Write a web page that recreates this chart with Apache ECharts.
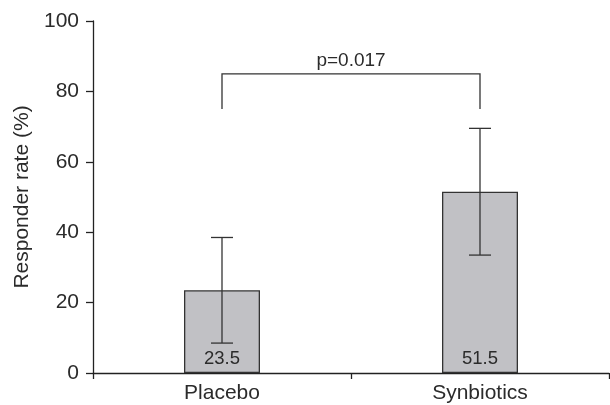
<!DOCTYPE html>
<html>
<head>
<meta charset="utf-8">
<script src="https://cdn.jsdelivr.net/npm/echarts@6/dist/echarts.min.js"></script>
<style>html,body{margin:0;padding:0;background:#fff;}#c{width:610px;height:405px;}</style>
</head>
<body>
<div id="c"></div>
<script>
var categories = ['Placebo', 'Synbiotics'];
var rates = [23.5, 51.5];
var errLow = [8.5, 33.5];
var errHigh = [38.5, 69.5];
var bracketTop = 85;
var bracketBottom = 75;
var pLabel = 'p=0.017';
var yTicks = [0, 20, 40, 60, 80, 100];

var chart = echarts.init(document.getElementById('c'));
var font = 'Liberation Sans, Arial, Helvetica, sans-serif';
var txt = '#2b2b2b';
chart.setOption({
  animation: false,
  grid: {left: 93, right: 1, top: 21, bottom: 32},
  xAxis: {
    type: 'category', data: categories,
    axisLine: {lineStyle: {color: '#222', width: 1.3}},
    axisTick: {show: true, length: 6, lineStyle: {color: '#222', width: 1.3}},
    axisLabel: {color: txt, fontSize: 21, fontFamily: font, margin: 10}
  },
  yAxis: {
    type: 'value', min: yTicks[0], max: yTicks[yTicks.length - 1], interval: 20,
    name: 'Responder rate (%)', nameLocation: 'middle', nameGap: 59,
    nameTextStyle: {color: txt, fontSize: 21, fontFamily: font},
    axisLine: {show: true, lineStyle: {color: '#222', width: 1.3}},
    axisTick: {show: true, length: 7, lineStyle: {color: '#222', width: 1.3}},
    splitLine: {show: false},
    axisLabel: {color: txt, fontSize: 21, fontFamily: font, margin: 14}
  },
  series: [
    {
      type: 'bar', data: rates, barWidth: 76,
      itemStyle: {color: '#c1c1c5', borderColor: '#333', borderWidth: 1.3},
      label: {show: true, position: 'insideBottom', distance: 5, color: txt, fontSize: 18.5, fontFamily: font}
    },
    {
      type: 'custom',
      data: categories.map(function (c, i) { return [i, errLow[i], errHigh[i]]; }),
      renderItem: function (params, api) {
        var lo = api.coord([api.value(0), api.value(1)]);
        var hi = api.coord([api.value(0), api.value(2)]);
        var hw = 11;
        var st = {stroke: '#333', lineWidth: 1.3};
        return {type: 'group', children: [
          {type: 'line', shape: {x1: lo[0], y1: lo[1], x2: hi[0], y2: hi[1]}, style: st},
          {type: 'line', shape: {x1: lo[0] - hw, y1: lo[1], x2: lo[0] + hw, y2: lo[1]}, style: st},
          {type: 'line', shape: {x1: hi[0] - hw, y1: hi[1], x2: hi[0] + hw, y2: hi[1]}, style: st}
        ]};
      },
      z: 5
    },
    {
      type: 'custom',
      data: [[0, 1, bracketTop, bracketBottom]],
      renderItem: function (params, api) {
        var a = api.coord([api.value(0), api.value(2)]);
        var b = api.coord([api.value(1), api.value(2)]);
        var a2 = api.coord([api.value(0), api.value(3)]);
        var b2 = api.coord([api.value(1), api.value(3)]);
        var st = {stroke: '#333', lineWidth: 1.3, fill: null};
        return {type: 'group', children: [
          {type: 'polyline', shape: {points: [[a2[0], a2[1]], [a[0], a[1]], [b[0], b[1]], [b2[0], b2[1]]]}, style: st},
          {type: 'text', x: (a[0] + b[0]) / 2, y: a[1] - 4,
           style: {text: pLabel, fill: txt, fontSize: 19, fontFamily: font, align: 'center', verticalAlign: 'bottom'}}
        ]};
      },
      z: 5
    }
  ]
});
</script>
</body>
</html>
